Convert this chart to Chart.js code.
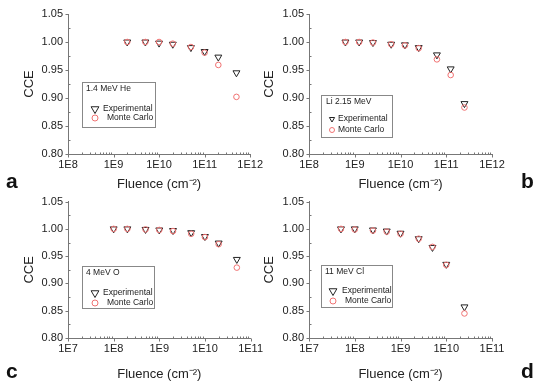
<!DOCTYPE html>
<html>
<head>
<meta charset="utf-8">
<script src="https://cdn.jsdelivr.net/npm/chart.js@4.4.0/dist/chart.umd.min.js"></script>
<style>
  body { margin: 0; background: #fff; }
  #wrap { position: relative; width: 534px; height: 382px; overflow: hidden; }
  .panel { position: absolute; }
  .tag { position: absolute; font: bold 21px 'Liberation Sans', Arial, sans-serif; line-height: 1; color: #111; }
</style>
</head>
<body>
<div id="wrap">
  <div class="panel" style="left:0px;top:0px"><canvas id="chartA" width="267" height="192"></canvas></div>
  <div class="panel" style="left:255px;top:0px"><canvas id="chartB" width="279" height="192"></canvas></div>
  <div class="panel" style="left:0px;top:190px"><canvas id="chartC" width="267" height="192"></canvas></div>
  <div class="panel" style="left:255px;top:190px"><canvas id="chartD" width="279" height="192"></canvas></div>
  <div class="tag" style="left:6px;top:170px">a</div>
  <div class="tag" style="left:521px;top:170px">b</div>
  <div class="tag" style="left:6px;top:360px">c</div>
  <div class="tag" style="left:521px;top:360px">d</div>
</div>
<script>
'use strict';

// tick labels
const yTickLabels = ['0.80', '0.85', '0.90', '0.95', '1.00', '1.05'];
const xTicksTop = ['1E8', '1E9', '1E10', '1E11', '1E12'];
const xTicksBottom = ['1E7', '1E8', '1E9', '1E10', '1E11'];

// a - 1.4 MeV He
const heFluence = [2e9, 5e9, 1e10, 2e10, 5e10, 1e11, 2e11, 5e11];
const heExp = [1.000, 1.000, 0.998, 0.996, 0.990, 0.983, 0.973, 0.945];
const heMC = [1.000, 1.000, 1.000, 0.997, 0.991, 0.981, 0.959, 0.902];

// b - Li 2.15 MeV
const liFluence = [6.25e8, 1.25e9, 2.5e9, 6.25e9, 1.25e10, 2.5e10, 6.25e10, 1.25e11, 2.5e11];
const liExp = [1.000, 1.000, 0.999, 0.996, 0.995, 0.990, 0.977, 0.952, 0.890];
const liMC = [1.000, 1.000, 0.999, 0.996, 0.994, 0.989, 0.969, 0.941, 0.883];

// c - 4 MeV O
const oFluence = [1e8, 2e8, 5e8, 1e9, 2e9, 5e9, 1e10, 2e10, 5e10];
const oExp = [1.000, 1.000, 0.999, 0.998, 0.997, 0.993, 0.986, 0.974, 0.944];
const oMC = [1.000, 1.000, 0.999, 0.998, 0.996, 0.991, 0.985, 0.972, 0.929];

// d - 11 MeV Cl
const clFluence = [5e7, 1e8, 2.5e8, 5e8, 1e9, 2.5e9, 5e9, 1e10, 2.5e10];
const clExp = [1.000, 1.000, 0.998, 0.996, 0.992, 0.982, 0.966, 0.935, 0.857];
const clMC = [1.000, 0.999, 0.997, 0.995, 0.991, 0.982, 0.967, 0.934, 0.845];

const FONT = "'Liberation Sans', Arial, sans-serif";
const AXIS_COLOR = '#777';
const TRI_COLOR = '#222';
const MC_COLOR = '#f07272';

function toPoints(xs, ys) {
  return xs.map((x, i) => ({ x: x, y: ys[i] }));
}

function drawTri(ctx, x, y, r) {
  // inverted triangle, same as chart.js triangle rotated 180
  ctx.beginPath();
  ctx.moveTo(x, y + r);
  ctx.lineTo(x - Math.sin(Math.PI / 3) * r, y - r / 2);
  ctx.lineTo(x + Math.sin(Math.PI / 3) * r, y - r / 2);
  ctx.closePath();
  ctx.stroke();
}

// small major ticks outside, minor ticks inside
const tickMarks = {
  id: 'tickMarks',
  afterDraw(chart) {
    const ctx = chart.ctx;
    const xs = chart.scales.x;
    const ys = chart.scales.y;
    const area = chart.chartArea;
    const by = Math.round(area.bottom) + 0.5;
    const lx = Math.round(area.left) + 0.5;
    ctx.save();
    ctx.strokeStyle = AXIS_COLOR;
    ctx.lineWidth = 1;
    ctx.beginPath();
    const lo = Math.round(Math.log10(xs.min));
    const hi = Math.round(Math.log10(xs.max));
    for (let e = lo; e <= hi; e++) {
      for (let m = 1; m < 10; m++) {
        const v = m * Math.pow(10, e);
        if (v > xs.max * 1.0001) break;
        const px = Math.round(xs.getPixelForValue(v)) + 0.5;
        if (m === 1) {
          ctx.moveTo(px, by);
          ctx.lineTo(px, by + 3);
        } else {
          ctx.moveTo(px, by);
          ctx.lineTo(px, by - 2);
        }
      }
    }
    ys.ticks.forEach((t, i) => {
      const py = Math.round(ys.getPixelForValue(t.value)) + 0.5;
      ctx.moveTo(lx, py);
      ctx.lineTo(lx - 3, py);
      if (i < ys.ticks.length - 1) {
        const mid = (t.value + ys.ticks[i + 1].value) / 2;
        const pm = Math.round(ys.getPixelForValue(mid)) + 0.5;
        ctx.moveTo(lx, pm);
        ctx.lineTo(lx + 2, pm);
      }
    });
    ctx.stroke();
    ctx.restore();
  }
};

// boxed legend with a title line
const boxLegend = {
  id: 'boxLegend',
  afterDraw(chart, args, o) {
    if (!o || !o.title) return;
    const ctx = chart.ctx;
    ctx.save();
    ctx.strokeStyle = '#888';
    ctx.lineWidth = 1;
    ctx.strokeRect(o.x + 0.5, o.y + 0.5, o.w, o.h);
    ctx.fillStyle = '#222';
    ctx.font = '8.5px ' + FONT;
    ctx.textBaseline = 'middle';
    ctx.textAlign = 'left';
    ctx.fillText(o.title, o.x + o.tx, o.y + 7);
    ctx.fillText('Experimental', o.x + o.t1, o.y + o.y1);
    ctx.fillText('Monte Carlo', o.x + o.t2, o.y + o.y2);
    ctx.strokeStyle = TRI_COLOR;
    drawTri(ctx, o.x + o.mx, o.y + o.y1, o.triR);
    ctx.strokeStyle = MC_COLOR;
    ctx.beginPath();
    ctx.arc(o.x + o.mx, o.y + o.y2, o.circR, 0, Math.PI * 2);
    ctx.stroke();
    ctx.restore();
  }
};

function makePanel(id, fluence, exp, mc, xLabels, lay, legend) {
  const xMin = Number(xLabels[0]);
  const xMax = Number(xLabels[xLabels.length - 1]);
  const config = {
    type: 'scatter',
    data: {
      datasets: [
        {
          label: 'Experimental',
          data: toPoints(fluence, exp),
          pointStyle: 'triangle',
          pointRotation: 180,
          pointRadius: 4,
          pointBorderColor: TRI_COLOR,
          pointBackgroundColor: 'rgba(0,0,0,0)',
          pointBorderWidth: 1,
          order: 1
        },
        {
          label: 'Monte Carlo',
          data: toPoints(fluence, mc),
          pointStyle: 'circle',
          pointRadius: 2.8,
          pointBorderColor: MC_COLOR,
          pointBackgroundColor: 'rgba(0,0,0,0)',
          pointBorderWidth: 1,
          order: 0
        }
      ]
    },
    options: {
      responsive: false,
      animation: false,
      layout: { padding: { left: 0, right: lay.padR, top: lay.padT, bottom: 0 } },
      plugins: {
        legend: { display: false },
        tooltip: { enabled: false },
        boxLegend: legend
      },
      scales: {
        x: {
          type: 'logarithmic',
          min: xMin,
          max: xMax,
          grid: { display: false, drawTicks: false },
          border: { display: true, color: AXIS_COLOR, width: 1 },
          afterBuildTicks(s) {
            s.ticks = xLabels.map(l => ({ value: Number(l) }));
          },
          afterFit(s) { s.height = lay.xH; },
          ticks: {
            autoSkip: false,
            maxRotation: 0,
            padding: 4,
            color: '#222',
            font: { family: FONT, size: 11 },
            callback: (v, i) => xLabels[i]
          },
          title: {
            display: true,
            text: 'Fluence (cm\u207B\u00B2)',
            color: '#222',
            font: { family: FONT, size: 13 },
            padding: { top: lay.xtPad, bottom: 0 }
          }
        },
        y: {
          min: Number(yTickLabels[0]),
          max: Number(yTickLabels[yTickLabels.length - 1]),
          grid: { display: false, drawTicks: false },
          border: { display: true, color: AXIS_COLOR, width: 1 },
          afterBuildTicks(s) {
            s.ticks = yTickLabels.map(l => ({ value: Number(l) }));
          },
          afterFit(s) { s.width = lay.yW; },
          ticks: {
            padding: 5,
            color: '#222',
            font: { family: FONT, size: 11 },
            callback: (v, i) => yTickLabels[i]
          },
          title: {
            display: true,
            text: 'CCE',
            color: '#222',
            font: { family: FONT, size: 13 },
            padding: { top: lay.ytPad, bottom: 0 }
          }
        }
      }
    },
    plugins: [tickMarks, boxLegend]
  };
  return new Chart(document.getElementById(id), config);
}

makePanel('chartA', heFluence, heExp, heMC, xTicksTop,
  { yW: 68, padR: 15, padT: 14, xH: 38, xtPad: 1, ytPad: 22 },
  { title: '1.4 MeV He', x: 82, y: 82, w: 73, h: 45, tx: 4, mx: 13, t1: 21, t2: 25, y1: 27, y2: 36, triR: 4.5, circR: 3 });

makePanel('chartB', liFluence, liExp, liMC, xTicksTop,
  { yW: 54, padR: 42, padT: 14, xH: 38, xtPad: 1, ytPad: 7 },
  { title: 'Li 2.15 MeV', x: 66, y: 95, w: 71, h: 42, tx: 5, mx: 11, t1: 17, t2: 17, y1: 24, y2: 35, triR: 3, circR: 2.5 });

makePanel('chartC', oFluence, oExp, oMC, xTicksBottom,
  { yW: 68, padR: 15, padT: 8, xH: 44, xtPad: 4, ytPad: 22 },
  { title: '4 MeV O', x: 82, y: 76, w: 72, h: 42, tx: 4, mx: 13, t1: 21, t2: 25, y1: 27, y2: 37, triR: 4.5, circR: 3 });

makePanel('chartD', clFluence, clExp, clMC, xTicksBottom,
  { yW: 54, padR: 42, padT: 8, xH: 44, xtPad: 4, ytPad: 7 },
  { title: '11 MeV Cl', x: 66, y: 75, w: 71, h: 42, tx: 4, mx: 12, t1: 21, t2: 24, y1: 26, y2: 36, triR: 4.5, circR: 3 });
</script>
</body>
</html>
